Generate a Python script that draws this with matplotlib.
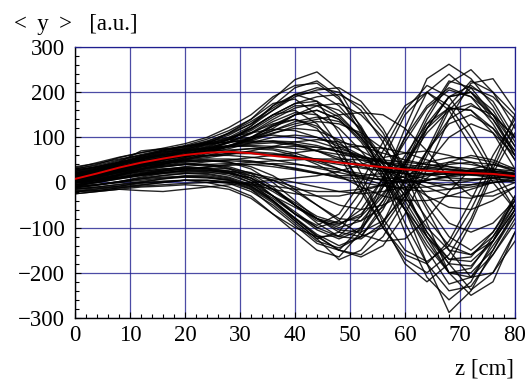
import numpy as np
import matplotlib
matplotlib.use("Agg")
import matplotlib.pyplot as plt
from matplotlib.ticker import MultipleLocator

plt.rcParams['font.family'] = ['Liberation Serif', 'DejaVu Serif']

# z positions of the track samples [cm]
z = [0, 4, 8, 12, 16, 20, 24, 28, 32, 36, 40, 44, 48, 52, 56, 60, 64, 68, 72, 76, 80]

# mean <y> (red curve)
y_mean = [8, 20, 33, 44, 53, 61, 66, 68, 65, 59, 54, 50, 44, 39, 34, 29, 26, 23, 21, 19, 14]

# individual tracks
tracks = [
    # up first, then down
    [5, 18, 30, 42, 55, 68, 85, 110, 140, 185, 228, 245, 205, 120, 10, -110, -210, -260, -220, -130, -50],
    [15, 25, 38, 50, 60, 72, 88, 105, 130, 170, 210, 225, 190, 110, 20, -90, -180, -240, -230, -160, -80],
    [-5, 5, 18, 30, 42, 55, 70, 90, 125, 170, 195, 180, 110, 20, -90, -180, -220, -180, -90, 20, 110],
    [20, 30, 45, 58, 70, 80, 92, 108, 130, 160, 190, 205, 210, 180, 120, 30, -60, -150, -210, -200, -130],
    [10, 22, 35, 48, 58, 66, 78, 95, 118, 150, 175, 180, 150, 100, 30, -50, -130, -200, -210, -160, -90],
    [0, 12, 25, 38, 50, 62, 75, 90, 110, 140, 165, 175, 160, 120, 55, -20, -110, -180, -238, -200, -110],
    [25, 35, 48, 60, 72, 82, 96, 115, 140, 175, 185, 150, 80, -10, -100, -170, -200, -160, -80, 30, 130],
    [-10, 2, 15, 28, 40, 52, 64, 80, 100, 128, 150, 160, 140, 95, 30, -40, -120, -180, -185, -130, -30],
    [30, 40, 55, 66, 76, 86, 100, 122, 150, 190, 215, 220, 185, 125, 40, -60, -180, -288, -240, -150, -60],
    [12, 20, 32, 45, 56, 68, 80, 96, 120, 150, 160, 130, 70, 0, -80, -150, -175, -140, -60, 40, 150],
    [8, 16, 28, 40, 50, 60, 72, 88, 108, 135, 155, 150, 120, 70, 10, -60, -150, -225, -210, -140, -70],
    [18, 28, 40, 52, 64, 74, 84, 98, 120, 150, 175, 190, 195, 170, 110, 20, -90, -200, -250, -220, -110],
    [0, 10, 22, 34, 45, 56, 68, 82, 100, 125, 140, 120, 60, -20, -100, -160, -180, -130, -40, 60, 140],
    [22, 32, 44, 56, 66, 76, 90, 110, 135, 165, 195, 210, 200, 160, 90, -10, -120, -200, -190, -120, -40],
    [4, 14, 26, 38, 48, 58, 68, 80, 98, 125, 150, 160, 140, 90, 20, -60, -140, -200, -200, -150, -70],
    [16, 24, 34, 44, 54, 62, 70, 80, 95, 115, 135, 145, 135, 105, 55, -10, -80, -140, -160, -130, -60],
    [24, 32, 42, 52, 62, 72, 82, 95, 115, 145, 170, 170, 145, 100, 40, -30, -110, -170, -165, -110, -30],
    # down first, then up
    [-20, -15, -10, -5, 0, 5, 0, -10, -30, -70, -110, -150, -165, -110, -10, 100, 200, 240, 200, 140, 60],
    [-10, -5, 0, 5, 10, 12, 10, 5, -15, -55, -95, -135, -150, -100, 0, 120, 230, 262, 230, 170, 90],
    [0, 5, 10, 18, 25, 30, 28, 20, 0, -40, -85, -125, -110, -40, 50, 150, 200, 170, 100, 20, -60],
    [-25, -20, -15, -10, -8, -5, -8, -15, -35, -70, -100, -120, -118, -75, 10, 100, 170, 210, 190, 130, 50],
    [5, 12, 20, 28, 35, 40, 38, 30, 10, -30, -70, -100, -85, -20, 70, 160, 215, 190, 120, 30, -40],
    [-15, -12, -8, 0, 8, 15, 15, 8, -10, -40, -80, -120, -150, -165, -140, -70, 30, 140, 220, 230, 160],
    [10, 15, 22, 30, 36, 40, 40, 35, 20, -10, -50, -85, -95, -60, 10, 90, 165, 205, 190, 150, 100],
    [-5, 0, 8, 15, 20, 22, 20, 12, -5, -30, -55, -80, -92, -70, -10, 60, 130, 165, 160, 120, 50],
    [15, 20, 28, 35, 42, 48, 50, 45, 30, 0, -40, -80, -110, -120, -100, -30, 70, 170, 225, 200, 150],
    [-20, -18, -12, -6, 0, 5, 5, 0, -15, -45, -85, -125, -171, -150, -90, 10, 120, 190, 200, 160, 80],
    [-12, -6, 2, 10, 16, 20, 18, 10, -8, -40, -78, -115, -140, -120, -50, 40, 140, 220, 250, 200, 120],
    [2, 8, 16, 24, 30, 34, 32, 25, 5, -30, -70, -95, -70, 0, 90, 170, 200, 160, 80, 0, -60],
    [-8, -4, 2, 8, 12, 14, 12, 5, -12, -42, -80, -118, -150, -160, -120, -40, 60, 160, 210, 190, 140],
    [10, 16, 24, 32, 38, 42, 40, 32, 15, -15, -50, -80, -100, -85, -30, 45, 120, 165, 160, 110, 30],
    [-6, 0, 8, 16, 22, 26, 24, 16, 0, -30, -65, -100, -120, -100, -40, 40, 120, 190, 215, 180, 100],
    [0, 4, 10, 16, 22, 26, 26, 22, 10, -15, -45, -75, -90, -75, -25, 40, 110, 160, 175, 140, 70],
    [-14, -10, -4, 2, 8, 12, 12, 6, -8, -35, -70, -105, -125, -105, -40, 50, 150, 225, 210, 150, 60],
    # core bundle
    [8, 18, 30, 42, 52, 60, 65, 68, 66, 62, 58, 52, 46, 40, 35, 30, 26, 22, 20, 18, 15],
    [20, 30, 42, 52, 60, 66, 70, 72, 75, 78, 80, 78, 70, 58, 45, 30, 18, 10, 8, 10, 12],
    [-5, 2, 10, 18, 25, 30, 35, 38, 40, 42, 40, 35, 28, 20, 12, 5, 0, -5, -5, 0, 5],
    [30, 38, 50, 62, 72, 80, 88, 95, 100, 105, 100, 90, 75, 60, 45, 35, 30, 28, 25, 22, 18],
    [0, 5, 12, 18, 22, 25, 26, 25, 20, 10, 0, -10, -20, -25, -20, -10, 5, 15, 20, 20, 15],
    [15, 28, 40, 55, 68, 78, 85, 90, 95, 110, 120, 115, 95, 70, 45, 20, 0, -15, -10, 0, 5],
    [-15, -10, -5, 0, 3, 5, 5, 2, -5, -15, -25, -30, -30, -20, -5, 15, 35, 45, 40, 30, 20],
    [10, 20, 32, 45, 55, 62, 70, 78, 85, 88, 82, 70, 55, 40, 30, 25, 30, 40, 45, 40, 30],
    [25, 35, 45, 55, 62, 68, 75, 80, 80, 75, 65, 50, 30, 10, -5, -15, -20, -15, -5, 5, 10],
    [-8, 0, 10, 20, 28, 35, 40, 42, 40, 35, 28, 20, 15, 15, 20, 30, 45, 55, 55, 45, 25],
    [5, 10, 18, 25, 30, 32, 30, 25, 15, 5, -10, -30, -50, -60, -50, -25, 10, 45, 60, 50, 30],
    [18, 28, 42, 58, 70, 80, 90, 100, 110, 118, 115, 100, 80, 55, 30, 10, -10, -30, -35, -20, 0],
    [35, 42, 52, 60, 68, 72, 76, 80, 82, 80, 75, 70, 62, 55, 50, 45, 40, 35, 30, 25, 20],
    [-20, -18, -12, -8, -5, -2, 0, 0, -3, -8, -15, -20, -20, -15, -5, 5, 15, 20, 18, 10, 0],
    [12, 25, 45, 70, 75, 72, 75, 82, 90, 92, 85, 70, 50, 35, 25, 20, 20, 22, 25, 25, 20],
    [0, 8, 18, 30, 40, 50, 60, 70, 75, 72, 60, 40, 15, -10, -30, -40, -40, -30, -15, 0, 10],
    [22, 28, 35, 40, 45, 50, 55, 62, 70, 80, 90, 95, 90, 80, 65, 50, 40, 30, 25, 20, 15],
    [-25, -20, -15, -18, -20, -15, -10, -5, 0, 5, 10, 15, 25, 40, 55, 65, 70, 60, 45, 25, 5],
    [5, 15, 28, 40, 50, 58, 66, 75, 88, 100, 105, 100, 85, 60, 30, 0, -30, -55, -60, -40, -10],
    [15, 22, 30, 38, 45, 52, 58, 65, 68, 65, 58, 45, 30, 15, 5, 0, 5, 15, 25, 30, 25],
    [2, 12, 24, 36, 46, 54, 60, 64, 64, 60, 55, 48, 40, 32, 25, 20, 18, 18, 18, 16, 12],
    [28, 34, 42, 48, 54, 58, 60, 60, 56, 50, 42, 32, 22, 12, 5, 2, 5, 12, 18, 20, 18],
    [-12, -6, 2, 12, 20, 28, 34, 40, 45, 48, 50, 52, 52, 50, 46, 40, 34, 28, 24, 20, 16],
    [18, 26, 36, 46, 56, 64, 72, 80, 88, 92, 90, 82, 68, 50, 32, 18, 8, 4, 6, 10, 14],
    [6, 14, 24, 34, 42, 48, 52, 52, 48, 40, 30, 20, 12, 8, 8, 12, 18, 24, 28, 26, 20],
    [32, 44, 56, 66, 74, 80, 86, 90, 92, 90, 85, 78, 68, 56, 44, 34, 26, 20, 16, 14, 12],
    [-2, 6, 16, 26, 34, 40, 46, 50, 55, 60, 66, 72, 78, 80, 76, 66, 50, 35, 24, 18, 14],
    [14, 20, 28, 36, 42, 46, 48, 48, 46, 40, 32, 22, 10, 0, -8, -12, -10, -4, 4, 10, 14],
    # intermediate phases
    [10, 20, 30, 42, 52, 60, 68, 80, 95, 120, 150, 170, 175, 150, 100, 30, -50, -120, -150, -110, -40],
    [-10, -5, 0, 8, 15, 20, 22, 20, 10, -15, -50, -90, -120, -125, -90, -20, 70, 140, 170, 150, 100],
    [20, 28, 38, 50, 60, 68, 75, 82, 92, 108, 125, 135, 130, 110, 75, 30, -30, -90, -110, -90, -40],
    [0, 6, 14, 22, 28, 32, 30, 22, 5, -20, -50, -80, -105, -110, -85, -30, 40, 100, 130, 110, 60],
    [28, 35, 45, 55, 65, 75, 85, 100, 125, 160, 195, 200, 170, 115, 45, -30, -100, -150, -160, -120, -50],
    [-18, -14, -8, -2, 2, 5, 4, -2, -20, -50, -90, -130, -145, -120, -60, 30, 130, 190, 200, 150, 80],
    [5, 15, 25, 38, 50, 62, 75, 90, 110, 130, 140, 125, 90, 45, 0, -60, -120, -170, -175, -130, -60],
    [8, 14, 22, 30, 38, 45, 48, 45, 35, 15, -15, -50, -80, -85, -55, 0, 70, 130, 150, 120, 70],
    [12, 25, 40, 52, 62, 70, 78, 88, 100, 115, 130, 140, 150, 155, 150, 120, 70, 10, -30, -30, -10],
    [-2, 5, 12, 20, 26, 30, 32, 30, 22, 5, -20, -50, -85, -115, -130, -125, -80, -20, 30, 40, 25],
]

grid_col = '#1f1f8f'

fig = plt.figure(figsize=(5.32, 3.83), dpi=100)
ax = fig.add_axes([0.141, 0.170, 0.827, 0.707])

for tr in tracks:
    ax.plot(z, tr, color='black', lw=1.0, alpha=0.85, zorder=2)
ax.plot(z, y_mean, color='#e00000', lw=1.4, zorder=3)

ax.set_xlim(0, 80)
ax.set_ylim(-300, 300)
ax.xaxis.set_major_locator(MultipleLocator(10))
ax.xaxis.set_minor_locator(MultipleLocator(2))
ax.yaxis.set_major_locator(MultipleLocator(100))
ax.yaxis.set_minor_locator(MultipleLocator(20))
ax.grid(True, which='major', color=grid_col, lw=0.9, alpha=0.8, zorder=0)
ax.set_axisbelow(True)

ax.tick_params(which='both', direction='in', top=False, right=False, labelsize=16.5, color='black')
ax.tick_params(which='major', length=4, width=0.8)
ax.tick_params(which='minor', length=3, width=0.8)
ax.tick_params(axis='x', pad=5)
ax.tick_params(axis='y', pad=7)

for side in ['left', 'bottom']:
    ax.spines[side].set_color('black')
    ax.spines[side].set_linewidth(1.0)
for side in ['top', 'right']:
    ax.spines[side].set_color(grid_col)
    ax.spines[side].set_linewidth(0.9)

fig.text(0.026, 0.922, '<\u2009 y \u2009>   [a.u.]', fontsize=16.5, ha='left', va='baseline')
fig.text(0.966, 0.022, 'z [cm]', fontsize=16.5, ha='right', va='baseline')

fig.savefig('out.png', dpi=100)
